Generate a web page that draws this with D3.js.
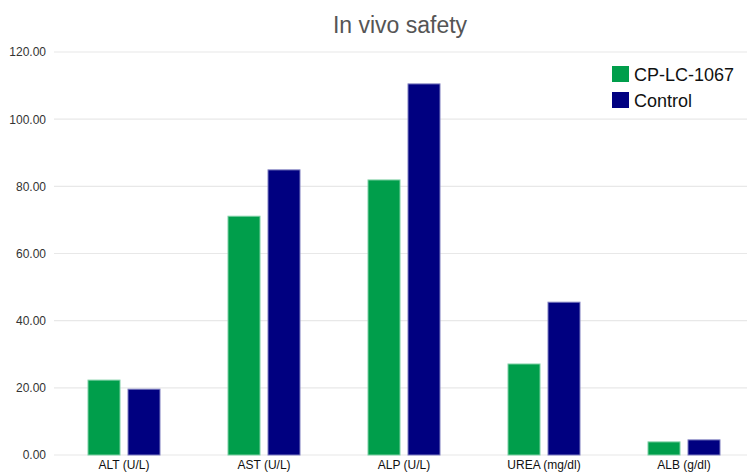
<!DOCTYPE html>
<html><head><meta charset="utf-8">
<script src="https://cdn.jsdelivr.net/npm/d3@7"></script>
<style>body{margin:0;background:#fff}svg{display:block;font-family:Arial,"Liberation Sans",sans-serif}</style>
</head><body><svg id="c" width="747" height="474"></svg>
<script>
const categories = ["ALT (U/L)", "AST (U/L)", "ALP (U/L)", "UREA (mg/dl)", "ALB (g/dl)"];
const seriesNames = ["CP-LC-1067", "Control"];
const treated = [22.3, 71.1, 81.9, 27.1, 3.9];
const control = [19.6, 84.9, 110.5, 45.5, 4.5];
const yTicks = [0, 20, 40, 60, 80, 100, 120];
const colors = ["#009E4B", "#000080"];

const svg = d3.select("#c");
const mLeft = 54, mRight = 754, mTop = 52, mBottom = 455;
const x = d3.scaleBand().domain(categories).range([mLeft, mRight]);
const y = d3.scaleLinear().domain([0, 120]).range([mBottom, mTop]);
const series = [treated, control];

// gridlines
svg.append("g").selectAll("line").data(yTicks).join("line")
  .attr("x1", mLeft).attr("x2", 747).attr("y1", d => y(d)).attr("y2", d => y(d))
  .attr("stroke", "#e8e8e8").attr("stroke-width", 1.2);

// y axis labels
const yAxis = d3.axisLeft(y).tickValues(yTicks).tickFormat(d3.format(".2f")).tickSize(0).tickPadding(8);
const ya = svg.append("g").attr("transform", `translate(${mLeft},0)`).call(yAxis);
ya.select(".domain").remove();
ya.selectAll("text").attr("font-size", 12).attr("fill", "#333").attr("font-family", "Arial,'Liberation Sans',sans-serif");

// bars
const bw = 32, gap = 8;
series.forEach((vals, si) => {
  svg.append("g").selectAll("rect").data(categories).join("rect")
    .attr("x", c => x(c) + x.bandwidth() / 2 - bw - gap / 2 + si * (bw + gap))
    .attr("y", (c, i) => y(vals[i]))
    .attr("width", bw)
    .attr("height", (c, i) => y(0) - y(vals[i]))
    .attr("fill", colors[si])
    .attr("stroke", si === 0 ? "#7fd0a5" : "#7f7fc0").attr("stroke-width", 1);
});

// x axis labels
const xAxis = d3.axisBottom(x).tickSize(0).tickPadding(5);
const xa = svg.append("g").attr("transform", `translate(0,${mBottom})`).call(xAxis);
xa.select(".domain").remove();
xa.selectAll("text").attr("font-size", 12).attr("fill", "#111").attr("font-family", "Arial,'Liberation Sans',sans-serif");

// title
svg.append("text").attr("x", 400).attr("y", 33).attr("text-anchor", "middle")
  .attr("font-size", 23).attr("fill", "#555").text("In vivo safety");

// legend
const lg = svg.append("g");
seriesNames.forEach((n, i) => {
  lg.append("rect").attr("x", 612).attr("y", 66 + i * 26).attr("width", 17).attr("height", 16).attr("fill", colors[i]);
  lg.append("text").attr("x", 634).attr("y", 81 + i * 26).attr("font-size", 18).attr("fill", "#111").text(n);
});
</script></body></html>
